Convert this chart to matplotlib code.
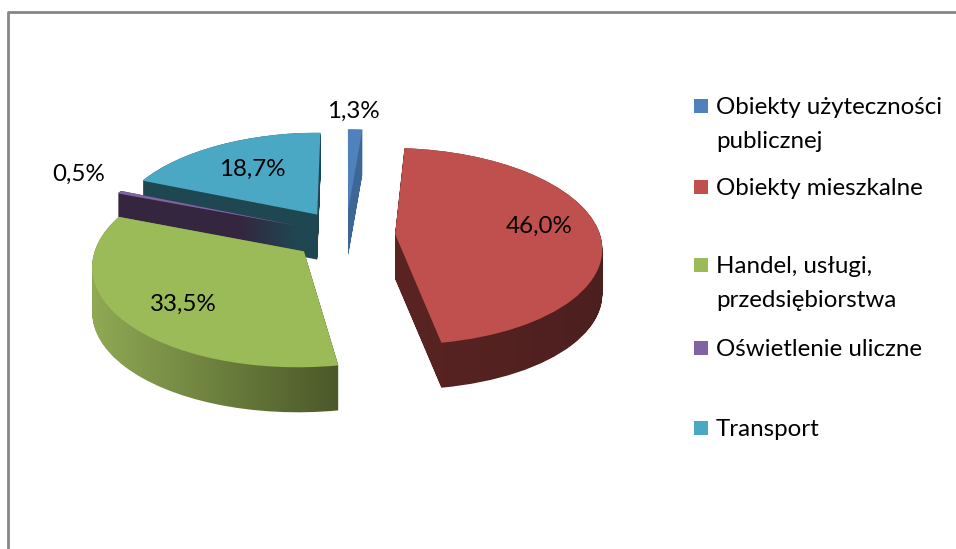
import numpy as np
import matplotlib
matplotlib.use('Agg')
import matplotlib.pyplot as plt
from matplotlib.colors import LinearSegmentedColormap
from matplotlib.patches import Rectangle
from matplotlib.path import Path
from matplotlib.transforms import Affine2D, Transform

# Dane
categories = ['Obiekty użyteczności\npublicznej', 'Obiekty mieszkalne',
              'Handel, usługi,\nprzedsiębiorstwa', 'Oświetlenie uliczne', 'Transport']
values = [1.3, 46.0, 33.5, 0.5, 18.7]

# Kolory
top_colors = ['#4f81bd', '#c0504d', '#9bbb59', '#8064a2', '#4aa8c4']
side_left = ['#3d6796', '#5a2422', '#8fa954', '#35263f', '#1f4752']
side_right = ['#3d6796', '#4c1f1f', '#4b5829', '#35263f', '#1f4752']

# Geometria (piksele obrazka)
cx, cy = 346, 235
rx, ry = 205, 97
depth = 45
persp = 0.125
explode = [0.26, 0.24, 0.26, 0.26, 0.26]
draw_order = [0, 4, 3, 2, 1]

label_pos = [(353, 111), (539, 226), (183, 304), (79, 174), (252, 169)]
legend_y = [106, 187, 265, 348, 428]
legend_x = 694


class Perspective(Transform):
    input_dims = 2
    output_dims = 2

    def transform_non_affine(self, xy):
        xy = np.asarray(xy, dtype=float)
        s = 1 / (1 + persp * xy[:, 1])
        return xy * s[:, None]


def main():
    plt.rcParams['font.family'] = ['Lato', 'DejaVu Sans']
    fig = plt.figure(figsize=(9.56, 5.49), dpi=100)
    ax = fig.add_axes([0, 0, 1, 1])

    wedges, _ = ax.pie(values, explode=explode, startangle=90, counterclock=False,
                       colors=top_colors, wedgeprops={'linewidth': 0})
    ax.set_aspect('auto')
    ax.set_xlim(0, 956)
    ax.set_ylim(549, 0)
    ax.axis('off')

    to_px = Perspective() + Affine2D().scale(rx, -ry).translate(cx, cy)

    for z, i in enumerate(draw_order):
        w = wedges[i]
        w.set_transform(to_px + ax.transData)
        w.set_zorder(2 * z + 3)

        # bok klina: gradient przyciety do wyciagnietego w dol ksztaltu
        top = to_px.transform_path(w.get_path())
        layers = [Path(top.vertices + [0, d], top.codes) for d in range(depth + 1)]
        sweep = Path.make_compound_path(*layers)
        x0, x1 = top.vertices[:, 0].min(), top.vertices[:, 0].max()
        y0, y1 = top.vertices[:, 1].min(), top.vertices[:, 1].max() + depth
        cmap = LinearSegmentedColormap.from_list('side', [side_left[i], side_right[i]])
        im = ax.imshow(np.linspace(0, 1, 128)[None, :], cmap=cmap, aspect='auto',
                       extent=(x0, x1, y1, y0), zorder=2 * z + 2)
        im.set_clip_path(sweep, ax.transData)

    ax.set_xlim(0, 956)
    ax.set_ylim(549, 0)

    # ramka
    ax.plot([8, 8, 956], [549, 12, 12], color='#868686', lw=2, zorder=1)

    # etykiety
    for v, (x, y) in zip(values, label_pos):
        ax.text(x, y, f'{v:.1f}%'.replace('.', ','), fontsize=17.4, ha='center', va='center',
                color='black', zorder=20)

    # legenda
    for name, color, y in zip(categories, top_colors, legend_y):
        ax.add_patch(Rectangle((legend_x, y - 7), 14, 14, facecolor=color, linewidth=0))
        ax.text(716, y - 9, name, fontsize=17.4, va='top', ha='left', color='black',
                linespacing=1.75, zorder=20)

    fig.savefig('out.png', dpi=100)


if __name__ == '__main__':
    main()
